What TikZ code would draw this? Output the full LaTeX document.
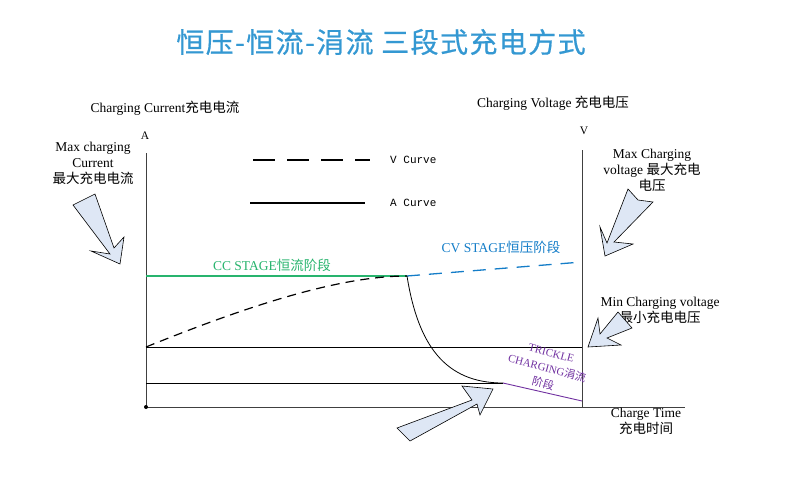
\documentclass[tikz,border=0pt]{standalone}
\usepackage{fontspec}
\setmainfont{Liberation Serif}
\setmonofont{Liberation Mono}
\newfontfamily\cjk{Noto Sans CJK SC}
\newfontfamily\cjktitle[FakeBold=0.7, LetterSpace=5]{Noto Sans CJK SC}
\newcommand{\zh}[1]{{\cjk #1}}
\usetikzlibrary{positioning}
\definecolor{titleblue}{RGB}{52,152,210}
\definecolor{ccgreen}{RGB}{40,180,110}
\definecolor{cvblue}{RGB}{20,125,200}
\definecolor{trpurple}{RGB}{112,48,160}
\definecolor{callfill}{RGB}{222,231,245}

\begin{document}
\begin{tikzpicture}[x=1pt, y=-1pt,
		lbl/.style={
			font=\fontsize{13.5}{16}\selectfont,
			align=center,
			inner sep=0pt},
		axis/.style={
			draw=black!75,
			line width=1pt},
		grid/.style={
			draw=black,
			line width=0.9pt},
		vcurve/.style={
			draw=black,
			line width=1.2pt,
			dash pattern=on 9pt off 6pt},
		acurve/.style={
			draw=black,
			line width=0.8pt},
		callout/.style={
			draw=black,
			fill=callfill,
			line width=0.6pt,
			line join=miter}]

	\useasboundingbox (0,0) rectangle (794,477);

	% title
	\node (title) [text=titleblue, inner sep=0pt] at (381,42)
		{\cjktitle\fontsize{28}{30}\selectfont 恒压-恒流-涓流 三段式充电方式};

	% axes
	\coordinate (O) at (146,407);
	\coordinate (Atop) at (146,153);
	\coordinate (Vtop) at (582,150);
	\coordinate (Vbot) at (582,407);
	\coordinate (Tend) at (685,407);
	\draw [axis] (Atop) -- (O) -- (Tend);
	\draw [axis] (Vtop) -- (Vbot);
	\fill (O) circle (2pt);

	\node (Alab) [lbl, font=\fontsize{11.5}{12}\selectfont] at (145,136) {A};
	\node (Vlab) [lbl, font=\fontsize{11.5}{12}\selectfont] at (584,131) {V};
	\node (curI) [lbl] at (165,108) {Charging Current\zh{充电电流}};
	\node (curV) [lbl] at (553,103) {Charging Voltage \zh{充电电压}};

	% legend
	\coordinate (legV1) at (253,160);
	\coordinate (legV2) at (370,160);
	\coordinate (legA1) at (250,203);
	\coordinate (legA2) at (365,203);
	\draw [vcurve, line width=1.4pt, dash pattern=on 22pt off 12pt] (legV1) -- (legV2);
	\draw [acurve, line width=1.2pt] (legA1) -- (legA2);
	\node (legVt) [lbl, anchor=west, font=\ttfamily\fontsize{11}{12}\selectfont, right=20pt of legV2] {V Curve};
	\node (legAt) [lbl, anchor=west, font=\ttfamily\fontsize{11}{12}\selectfont, right=25pt of legA2] {A Curve};

	% stages
	\coordinate (ccS) at (146,276);
	\coordinate (knee) at (407,276);
	\coordinate (cvE) at (582,262);
	\coordinate (vS) at (146,347);
	\coordinate (minV) at (582,347);
	\coordinate (lowA) at (146,383);
	\coordinate (tail) at (503,383);
	\coordinate (trE) at (582,401);

	\draw [grid] (vS) -- (minV);
	\draw [grid] (lowA) -- (tail);
	\draw [draw=ccgreen, line width=1.2pt] (ccS) -- (knee);
	\draw [vcurve] (vS) .. controls (250,305) and (340,276) .. (knee);
	\draw [draw=cvblue, line width=1.3pt, dash pattern=on 13pt off 9pt] (knee) -- (cvE);
	\draw [acurve] (knee) .. controls (418,345) and (445,383) .. (tail);
	\draw [draw=trpurple, line width=0.9pt] (tail) -- (trE);

	\node (cc) [lbl, text=ccgreen] at (272,265) {CC STAGE\zh{恒流阶段}};
	\node (cv) [lbl, text=cvblue] at (501,247) {CV STAGE\zh{恒压阶段}};
	\node (tr) [lbl, text=trpurple, rotate=-15, font=\fontsize{11}{16}\selectfont] at (547,369)
		{TRICKLE\\CHARGING\zh{涓流}\\\zh{阶段}};

	% side notes
	\node (maxI) [lbl] at (93,163) {Max charging\\Current\\\zh{最大充电电流}};
	\node (maxV) [lbl] at (652,170) {Max Charging\\voltage \zh{最大充电}\\\zh{电压}};
	\node (minVt) [lbl] at (660,310) {Min Charging voltage\\\zh{最小充电电压}};
	\node (time) [lbl] at (646,421) {Charge Time\\\zh{充电时间}};

	% callout arrows
	\draw [callout] (73,205) -- (95,194) -- (114,248) -- (124,237) -- (120,264)
		-- (91,251) -- (110,254) -- cycle;
	\draw [callout] (628,189) -- (638,200) -- (653,202) -- (614,242) -- (633,244)
		-- (605,256) -- (600,227) -- (607,243) -- cycle;
	\draw [callout] (618,312) -- (632,328) -- (607,338) -- (621,345) -- (588,347)
		-- (598,318) -- (600,334) -- cycle;
	\draw [callout] (397,428) -- (472,400) -- (462,386) -- (493,389) -- (480,415)
		-- (477,404) -- (410,441) -- cycle;
\end{tikzpicture}
\end{document}
